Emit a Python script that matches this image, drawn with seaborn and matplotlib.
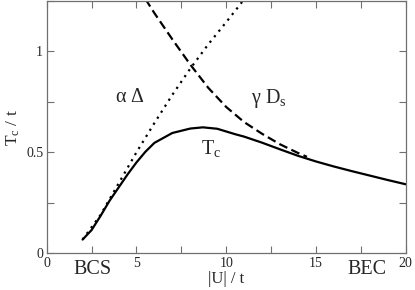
import matplotlib
matplotlib.use('Agg')
import matplotlib.pyplot as plt
import seaborn as sns
from matplotlib.ticker import MultipleLocator

# Tc curve (solid)
tc_u = [2.0, 2.5, 3.0, 3.5, 4.0, 4.5, 5.0, 5.5, 6.0, 7.0, 8.0, 8.7, 9.5, 10.5,
        11.0, 12.0, 13.0, 14.0, 15.0, 16.0, 17.0, 18.0, 19.0, 20.0]
tc_val = [0.068, 0.115, 0.185, 0.26, 0.325, 0.39, 0.45, 0.503, 0.547, 0.596,
          0.618, 0.624, 0.617, 0.59, 0.578, 0.548, 0.515, 0.483, 0.455, 0.43,
          0.407, 0.385, 0.363, 0.342]

# alpha * Delta (dotted)
gap_u = [2.0, 3.0, 4.0, 5.0, 6.0, 7.0, 8.0, 9.0, 10.0, 10.8, 11.0]
gap_val = [0.068, 0.19, 0.345, 0.50, 0.645, 0.785, 0.915, 1.035, 1.145, 1.235, 1.26]

# gamma * Ds (dashed)
ds_u = [5.5, 6.0, 7.0, 8.0, 9.0, 10.0, 11.0, 12.0, 13.0, 14.0, 14.5]
ds_val = [1.26, 1.19, 1.06, 0.935, 0.82, 0.725, 0.65, 0.592, 0.54, 0.497, 0.478]

sns.set_style('ticks')
plt.rcParams['font.family'] = ['Liberation Serif', 'DejaVu Serif']
plt.rcParams['mathtext.fontset'] = 'custom'
plt.rcParams['mathtext.rm'] = 'Liberation Serif'
plt.rcParams['mathtext.it'] = 'Liberation Serif'
plt.rcParams['mathtext.bf'] = 'Liberation Serif'

frame = '#707070'

fig = plt.figure(figsize=(4.15, 2.9), dpi=100)
ax = fig.add_axes([0.1125, 0.1266, 0.865, 0.870])

sns.lineplot(x=tc_u, y=tc_val, ax=ax, color='black', lw=1.6)
sns.lineplot(x=gap_u, y=gap_val, ax=ax, color='black', lw=1.6,
             linestyle=(0, (1, 2.2)))
sns.lineplot(x=ds_u, y=ds_val, ax=ax, color='black', lw=1.6,
             linestyle=(0, (4, 2)))

ax.set_xlim(0, 20)
ax.set_ylim(0, 1.25)
ax.xaxis.set_major_locator(MultipleLocator(5))
ax.xaxis.set_minor_locator(MultipleLocator(2.5))
ax.yaxis.set_major_locator(MultipleLocator(0.5))
ax.yaxis.set_minor_locator(MultipleLocator(0.25))
ax.set_yticks([0, 0.5, 1])
ax.set_yticklabels(['0', '0.5', '1'])
ax.tick_params(which='both', direction='in', top=True, right=True,
               length=5, width=0.8, color=frame, labelsize=10, pad=2.5)

for s in ax.spines.values():
    s.set_color(frame)
    s.set_linewidth(0.9)

ax.set_xlabel('|U| / t', fontsize=12, labelpad=1)
ax.set_ylabel(r'$\mathrm{T}_\mathrm{c}$ / t', fontsize=12.5, labelpad=3)

ax.text(3.8, 0.75, r'$\alpha\ \Delta$', fontsize=14.5, va='baseline')
ax.text(11.4, 0.745, r'$\gamma\ \mathrm{D}_\mathrm{s}$', fontsize=14.5, va='baseline')
ax.text(8.6, 0.49, r'$\mathrm{T}_\mathrm{c}$', fontsize=14.5, va='baseline')

xt = ax.get_xaxis_transform()
ax.text(2.55, -0.066, 'BCS', fontsize=14.5, ha='center', va='center', transform=xt)
ax.text(17.85, -0.066, 'BEC', fontsize=14.5, ha='center', va='center', transform=xt)

fig.savefig('out.png', dpi=100)
